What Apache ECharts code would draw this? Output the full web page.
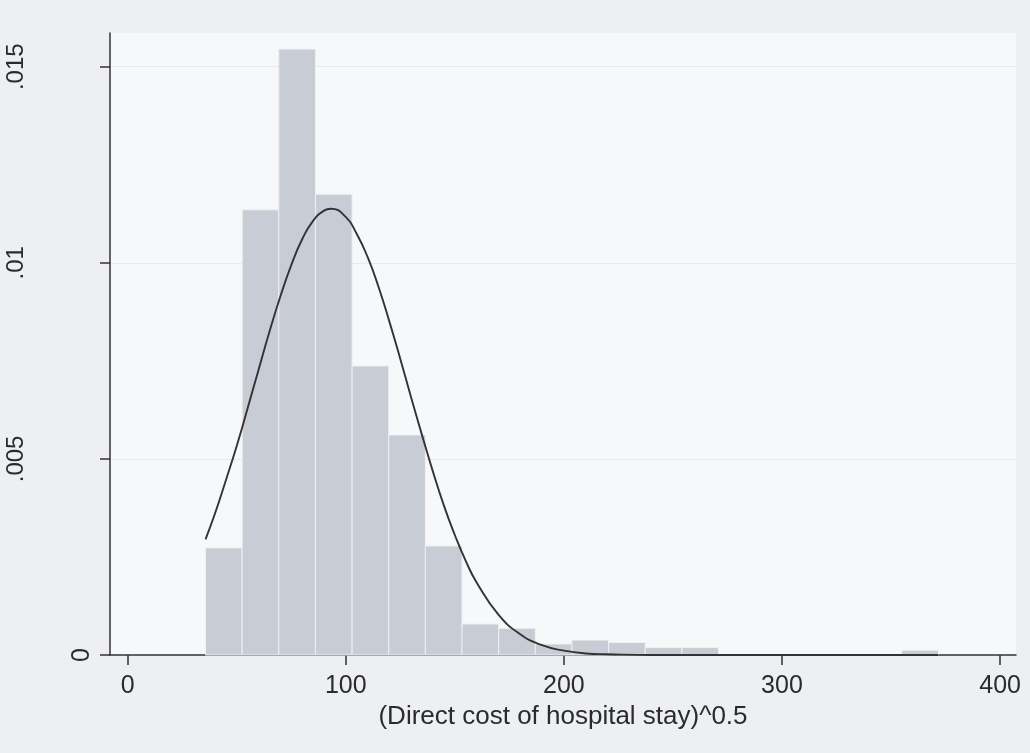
<!DOCTYPE html>
<html>
<head>
<meta charset="utf-8">
<script src="https://cdn.jsdelivr.net/npm/echarts@6/dist/echarts.min.js"></script>
<style>
  html, body { margin: 0; padding: 0; background: #edeff3; }
  #chart { width: 1030px; height: 753px; }
</style>
</head>
<body>
<div id="chart"></div>
<script>
// Histogram bin edges (sqrt-transformed direct cost)
const binEdges = [35.7, 52.5, 69.3, 86.1, 102.9, 119.7, 136.5, 153.3, 170.1, 186.9,
                  203.7, 220.5, 237.3, 254.1, 270.9, 287.7, 304.5, 321.3, 338.1, 354.9, 371.7];
// Density of each bin
const binDensity = [0.00273, 0.01135, 0.01545, 0.01175, 0.00737, 0.00561, 0.00278, 0.00079,
                    0.00068, 0.00028, 0.00038, 0.00032, 0.00019, 0.00019, 0, 0, 0, 0, 0, 0.00012];

// Overlaid normal density curve
const curveX = [35.7, 40, 45, 50, 55, 60, 65, 70, 75, 80, 85, 90, 93.2, 100, 105, 110, 115, 120,
                125, 130, 135, 140, 145, 150, 155, 160, 170, 180, 190, 200, 210, 220, 240, 270, 300, 340, 371.7];
const curveY = [0.00295, 0.00360, 0.00445, 0.00533, 0.00629, 0.00727, 0.00824, 0.00914, 0.00994, 0.01060,
                0.01107, 0.01133, 0.01138, 0.01117, 0.01074, 0.01015, 0.00939, 0.00850, 0.00755, 0.00656,
                0.00560, 0.00467, 0.00381, 0.00306, 0.00240, 0.00185, 0.00103, 0.00053, 0.00025, 0.00011,
                0.00004, 0.00002, 0, 0, 0, 0, 0];

const xTicks = [0, 100, 200, 300, 400];
const yTicks = [0, 0.005, 0.01, 0.015];
const yTickLabels = ['0', '.005', '.01', '.015'];
const xTitle = '(Direct cost of hospital stay)^0.5';

const bars = binDensity.map((d, i) => [binEdges[i], binEdges[i + 1], d]);
const curve = curveX.map((x, i) => [x, curveY[i]]);

const chart = echarts.init(document.getElementById('chart'), null, { renderer: 'canvas' });
const textColor = '#2b2b2b';
const font = 'Liberation Sans, Arial, sans-serif';

chart.setOption({
  backgroundColor: '#edeff3',
  animation: false,
  grid: {
    left: 110, right: 14, top: 33, bottom: 98,
    show: true, backgroundColor: '#f7f8fa', borderWidth: 0
  },
  xAxis: {
    type: 'value',
    min: -8.1, max: 407.3,
    name: xTitle,
    nameLocation: 'middle',
    nameGap: 44,
    nameTextStyle: { color: textColor, fontSize: 26, fontFamily: font },
    axisLine: { show: true, onZero: false, lineStyle: { color: '#333', width: 1.5 } },
    axisTick: { show: true, length: 10, customValues: xTicks, lineStyle: { color: '#333', width: 1.5 } },
    axisLabel: { customValues: xTicks, color: textColor, fontSize: 25, fontFamily: font, margin: 19 },
    splitLine: { show: false }
  },
  yAxis: {
    type: 'value',
    min: 0, max: 0.01586,
    axisLine: { show: true, onZero: false, lineStyle: { color: '#333', width: 1.5 } },
    axisTick: { show: true, length: 10, customValues: yTicks, lineStyle: { color: '#333', width: 1.5 } },
    axisLabel: {
      customValues: yTicks,
      rotate: 90,
      margin: 15,
      formatter: v => {
        const i = yTicks.findIndex(t => Math.abs(t - v) < 1e-9);
        if (i < 0) return '';
        // the zero label sits next to the axis, the decimal labels sit further out
        return i === 0 ? '{near|' + yTickLabels[i] + '}' : '{far|' + yTickLabels[i] + '}';
      },
      rich: {
        near: { color: textColor, fontSize: 25, fontFamily: font },
        far: { color: textColor, fontSize: 24, fontFamily: font, padding: [0, 0, 67, 0] }
      }
    },
    splitLine: { show: true, lineStyle: { color: '#e6e8ec', width: 1 } },
    interval: 0.005
  },
  series: [
    {
      type: 'custom',
      data: bars,
      encode: { x: [0, 1], y: 2 },
      renderItem: (params, api) => {
        const p0 = api.coord([api.value(0), api.value(2)]);
        const p1 = api.coord([api.value(1), 0]);
        return {
          type: 'rect',
          shape: { x: p0[0], y: p0[1], width: p1[0] - p0[0], height: p1[1] - p0[1] },
          style: { fill: '#c8ccd5', stroke: '#eef0f3', lineWidth: 1 }
        };
      },
      z: 2
    },
    {
      type: 'line',
      data: curve,
      smooth: true,
      showSymbol: false,
      lineStyle: { color: '#333', width: 1.9 },
      z: 3
    }
  ]
});
</script>
</body>
</html>
